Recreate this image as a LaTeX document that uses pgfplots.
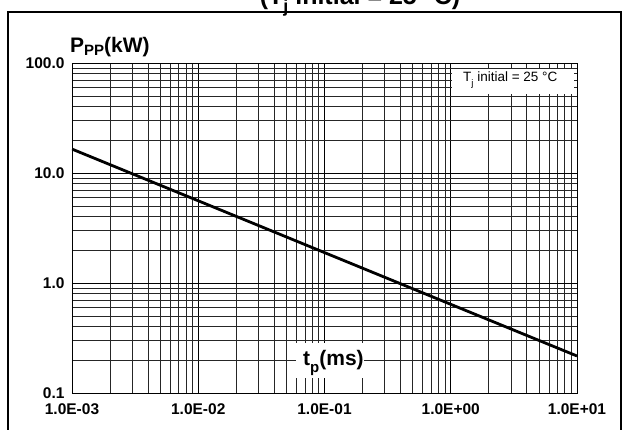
\documentclass[border=0pt]{standalone}
\usepackage{pgfplots}
\pgfplotsset{compat=1.18}
\usepackage{fontspec}
\setmainfont{Liberation Sans}
\begin{document}
\begin{tikzpicture}[x=1pt,y=1pt]
\useasboundingbox (0,0) rectangle (625,430);
\clip (0,0) rectangle (625,430);
\begin{axis}[
  at={(72pt,37pt)}, anchor=south west,
  scale only axis, width=505pt, height=330pt,
  xmode=log, ymode=log,
  xmin=1e-3, xmax=10, ymin=0.1, ymax=100,
  xtick={1e-3,1e-2,1e-1,1,10},
  xticklabels={1.0E-03,1.0E-02,1.0E-01,1.0E+00,1.0E+01},
  ytick={0.1,1,10,100},
  yticklabels={0.1,1.0,10.0,100.0},
  minor xtick={0.002,0.003,0.004,0.005,0.006,0.007,0.008,0.009,
               0.02,0.03,0.04,0.05,0.06,0.07,0.08,0.09,
               0.2,0.3,0.4,0.5,0.6,0.7,0.8,0.9,
               2,3,4,5,6,7,8,9},
  minor ytick={0.2,0.3,0.4,0.5,0.6,0.7,0.8,0.9,
               2,3,4,5,6,7,8,9,
               20,30,40,50,60,70,80,90},
  grid=both,
  major grid style={black, line width=0.8pt},
  minor grid style={black!85, line width=0.7pt},
  major tick length=0pt, minor tick length=0pt,
  axis line style={black, line width=0.8pt},
  ticklabel style={font=\bfseries\fontsize{15.5}{15.5}\selectfont},
  xticklabel style={yshift=-7pt},
  yticklabel style={xshift=-4pt},
]
\addplot[black, line width=2.8pt] coordinates {(0.001,16.5) (0.01,5.59) (0.1,1.89) (1,0.64) (10,0.217)};
\end{axis}
% outer frame
\draw[line width=2.5pt] (8,-20) -- (8,418) -- (621,418) -- (621,-20);
% cut-off title
\node[anchor=base, font=\bfseries\fontsize{25}{25}\selectfont, inner sep=0pt] at (360,425)
  {(T\raisebox{-0.3em}{\fontsize{18}{18}\selectfont j} initial = 25 °C)};
% y label
\node[anchor=base west, font=\bfseries\fontsize{21}{21}\selectfont, inner sep=0pt] at (70,377)
  {P\raisebox{-0.12em}{\fontsize{15}{15}\selectfont PP}(kW)};
% legend box
\fill[white] (452,336) rectangle (574,361);
\node[anchor=base west, font=\fontsize{13.5}{13.5}\selectfont, inner sep=0pt] at (463,348)
  {T\raisebox{-0.3em}{\fontsize{9.5}{9.5}\selectfont j} initial = 25 °C};
% x label
\fill[white] (296,52) rectangle (364,87);
\node[anchor=base west, font=\bfseries\fontsize{21}{21}\selectfont, inner sep=0pt] at (303,64)
  {t\raisebox{-0.3em}{\fontsize{15}{15}\selectfont p}(ms)};
\end{tikzpicture}
\end{document}
